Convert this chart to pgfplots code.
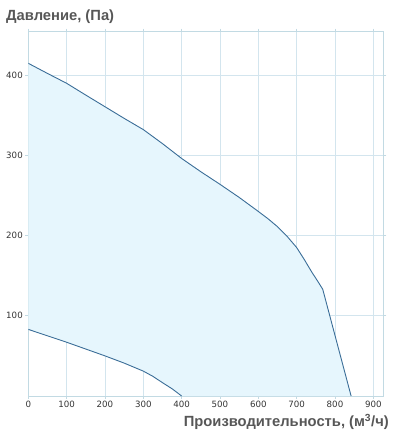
\documentclass[border=0pt]{standalone}
\usepackage{pgfplots}
\pgfplotsset{compat=1.18}
\usepackage{fontspec}
\setmainfont{DejaVu Sans}
\newfontfamily\labfont{Liberation Sans}
\definecolor{gridc}{HTML}{D3E5EE}
\definecolor{framec}{HTML}{C2DAE3}
\definecolor{linec}{HTML}{3A6D97}
\definecolor{fillc}{HTML}{E6F6FD}
\definecolor{labc}{HTML}{575757}
\definecolor{tickc}{HTML}{333333}
\begin{document}
\begin{tikzpicture}
\begin{axis}[
  scale only axis,
  width=355bp, height=364.3bp,
  xmin=0, xmax=926, ymin=0, ymax=454,
  xtick={0,100,...,900},
  ytick={100,200,300,400},
  grid=major,
  grid style={gridc, line width=0.7pt},
  axis line style={framec, line width=0.9pt},
  tick align=outside,
  major tick length=3bp,
  tick style={framec, line width=0.9pt},
  ticklabel style={font=\fontsize{8.7}{10}\selectfont, text=tickc},
  /pgf/number format/assume math mode=true,
  xticklabel style={yshift=1bp},
  yticklabel style={xshift=1bp},
]
\addplot[fill=fillc, draw=none] coordinates {
 (0,414.6) (50,402) (100,389.7) (150,375) (200,360.5) (250,346) (300,332)
 (350,314.5) (400,296) (450,279.5) (500,263.8) (550,247.5) (600,230)
 (625,221) (650,211) (675,199) (700,185) (720,170) (740,154) (755,143) (768,133) (842,0)
 (400,0) (375,9) (350,16.6) (325,24.5) (300,31) (250,41) (200,50) (150,58.5) (100,67) (50,75) (0,83)
} -- cycle;
\addplot[linec, line width=0.9pt] coordinates {
 (0,414.6) (50,402) (100,389.7) (150,375) (200,360.5) (250,346) (300,332)
 (350,314.5) (400,296) (450,279.5) (500,263.8) (550,247.5) (600,230)
 (625,221) (650,211) (675,199) (700,185) (720,170) (740,154) (755,143) (768,133) (842,0)
};
\addplot[linec, line width=0.9pt] coordinates {
 (0,83) (50,75) (100,67) (150,58.5) (200,50) (250,41) (300,31) (325,24.5) (350,16.6) (375,9) (400,0)
};
\end{axis}
\node[anchor=base west, inner sep=0pt, text=labc, font=\labfont\bfseries\fontsize{14.8}{17}\selectfont] at (-22.3bp,375bp) {Давление, (Па)};
\node[anchor=base east, inner sep=0pt, text=labc, font=\labfont\bfseries\fontsize{14.8}{17}\selectfont] at (360.7bp,-30.5bp) {Производительность, (м\textsuperscript{3}/ч)};
\pgfresetboundingbox
\useasboundingbox (-28.3bp,-39bp) rectangle (372.7bp,396bp);
\end{tikzpicture}
\end{document}
